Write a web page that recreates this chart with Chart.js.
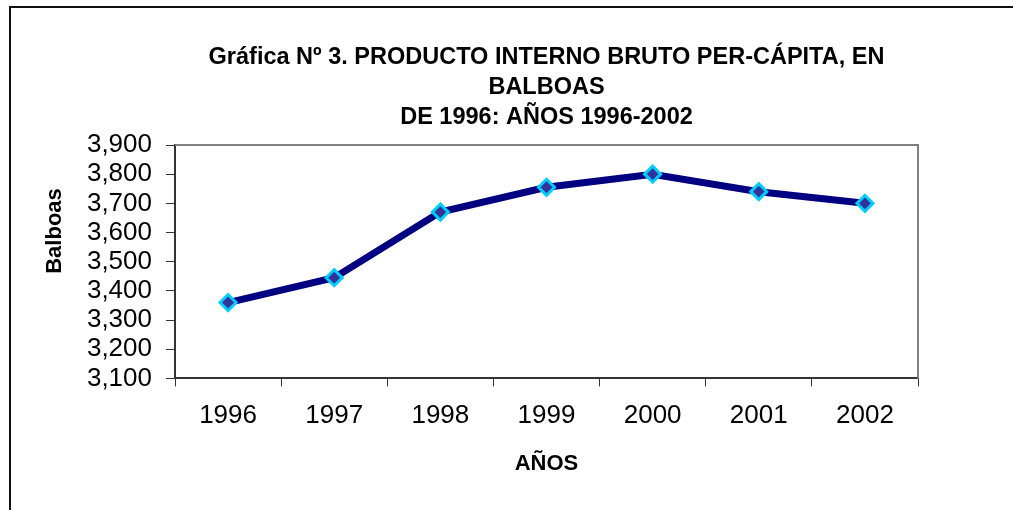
<!DOCTYPE html>
<html>
<head>
<meta charset="utf-8">
<script src="https://cdn.jsdelivr.net/npm/chart.js@4/dist/chart.umd.min.js"></script>
<style>
  html, body { margin: 0; padding: 0; background: #ffffff; }
  #wrap { position: relative; width: 1013px; height: 510px; overflow: hidden; }
  #frame { position: absolute; left: 9px; top: 6px; width: 1100px; height: 600px;
           border-left: 2px solid #111; border-top: 2px solid #111; box-sizing: border-box; }
  canvas { position: absolute; left: 0; top: 0; }
</style>
</head>
<body>
<div id="wrap">
  <div id="frame"></div>
  <canvas id="c" width="1013" height="510"></canvas>
</div>
<script>
const titleLines = ['Gráfica Nº 3. PRODUCTO INTERNO BRUTO PER-CÁPITA, EN', 'BALBOAS', 'DE 1996: AÑOS 1996-2002'];
const categories = ['1996', '1997', '1998', '1999', '2000', '2001', '2002'];
const pibPerCapita = [3360, 3445, 3670, 3755, 3800, 3740, 3700];
const yMin = 3100, yMax = 3900, yStep = 100;
const xTitle = 'AÑOS';
const yTitle = 'Balboas';

const FONT = "'Liberation Sans', Arial, sans-serif";

const plotFrame = {
  id: 'plotFrame',
  beforeDatasetsDraw(chart) {
    const {ctx, chartArea: a} = chart;
    ctx.save();
    ctx.strokeStyle = '#808080';
    ctx.lineWidth = 2;
    ctx.beginPath();
    ctx.moveTo(a.left, a.top);
    ctx.lineTo(a.right, a.top);
    ctx.lineTo(a.right, a.bottom);
    ctx.stroke();
    ctx.restore();
  }
};

const yTitlePlugin = {
  id: 'yTitlePlugin',
  afterDraw(chart) {
    const {ctx} = chart;
    ctx.save();
    ctx.translate(55, 231);
    ctx.rotate(-Math.PI / 2);
    ctx.font = "bold 22px " + FONT;
    ctx.fillStyle = '#000';
    ctx.textAlign = 'center';
    ctx.textBaseline = 'middle';
    ctx.fillText(yTitle, 0, 0);
    ctx.restore();
  }
};

new Chart(document.getElementById('c'), {
  type: 'line',
  data: {
    labels: categories,
    datasets: [{
      data: pibPerCapita,
      borderColor: '#000080',
      borderWidth: 7,
      tension: 0,
      pointStyle: 'rectRot',
      pointRadius: 8,
      pointHoverRadius: 8,
      pointBackgroundColor: '#333399',
      pointBorderColor: '#00CCFF',
      pointBorderWidth: 3
    }]
  },
  options: {
    responsive: false,
    animation: false,
    layout: { padding: { top: 0, left: 0, right: 95, bottom: 33 } },
    plugins: {
      legend: { display: false },
      tooltip: { enabled: false },
      title: {
        display: true,
        fullSize: false,
        text: titleLines,
        color: '#000',
        font: { family: FONT, size: 23.5, weight: 'bold', lineHeight: 30 / 23.5 },
        padding: { top: 43, bottom: 12 }
      }
    },
    scales: {
      x: {
        type: 'category',
        offset: true,
        grid: { display: true, drawOnChartArea: false, offset: true, tickLength: 8, color: '#333', lineWidth: 1 },
        border: { display: true, color: '#333', width: 2 },
        ticks: { color: '#000', font: { family: FONT, size: 26 }, padding: 14, maxRotation: 0, autoSkip: false },
        title: { display: true, text: xTitle, color: '#000', font: { family: FONT, size: 22, weight: 'bold' }, padding: { top: 5, bottom: 0 } }
      },
      y: {
        min: yMin,
        max: yMax,
        grid: { display: true, drawOnChartArea: false, tickLength: 9, color: '#333', lineWidth: 1 },
        border: { display: true, color: '#333', width: 2 },
        ticks: {
          stepSize: yStep,
          autoSkip: false,
          color: '#000',
          font: { family: FONT, size: 26 },
          padding: 14,
          callback: v => v.toLocaleString('en-US')
        },
        afterFit(scale) { scale.width = 175; }
      }
    }
  },
  plugins: [plotFrame, yTitlePlugin]
});
</script>
</body>
</html>
